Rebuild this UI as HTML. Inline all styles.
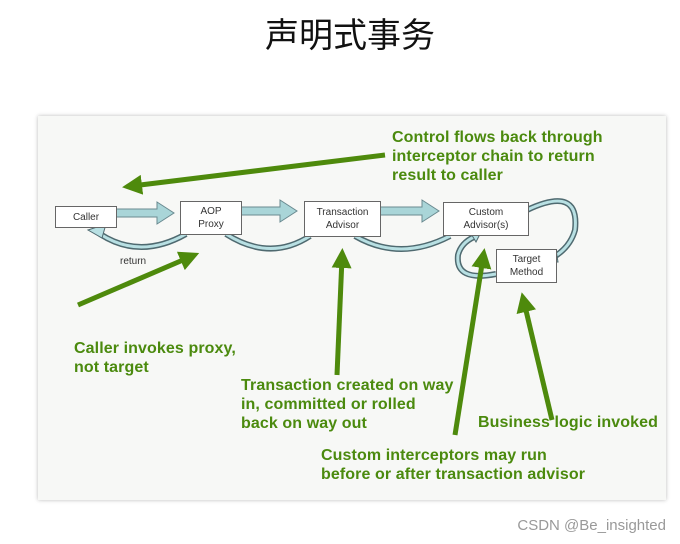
<!DOCTYPE html>
<html><head><style>
body{margin:0;width:680px;height:544px;background:#fff;position:relative;overflow:hidden;font-family:"Liberation Sans",sans-serif}
.t{position:absolute;left:0;width:700px;text-align:center;top:8px;font:34px "Noto Sans CJK SC",sans-serif;color:#111}
.slide{position:absolute;left:38px;top:116px;width:628px;height:384px;background:#f7f8f6;box-shadow:0 0 4px #bbb}
.b{position:absolute;background:#fff;border:1px solid #666;font-size:10px;color:#333;text-align:center;display:flex;align-items:center;justify-content:center;line-height:13px}
.g{position:absolute;color:#4b8a0e;font-weight:bold;font-size:16px;line-height:19px;white-space:nowrap;letter-spacing:0.1px}
.w{position:absolute;right:14px;bottom:10px;font:15px "Liberation Sans","Noto Sans CJK SC",sans-serif;color:#999}
</style></head><body>
<div class="t">声明式事务</div>
<div class="slide"></div>
<svg width="680" height="544" style="position:absolute;left:0;top:0">
<defs><marker id="h" markerWidth="4" markerHeight="4" refX="2" refY="2" orient="auto" markerUnits="strokeWidth"><path d="M0,0L4,2L0,4z" fill="#4e8a0c"/></marker></defs>
<g fill="#a9d5d8" stroke="#6a8a90" stroke-width="1">
<path d="M115,209h42v-7l17,11l-17,11v-7h-42z"/>
<path d="M240,207h40v-7l17,11l-17,11v-7h-40z"/>
<path d="M379,207h43v-7l17,11l-17,11v-7h-43z"/>
</g>
<g fill="none" stroke="#4f6a70" stroke-width="6">
<path d="M186,234 Q140,260 100,234"/>
<path d="M226,234 Q270,262 310,236"/>
<path d="M355,236 Q400,262 450,236"/>
<path d="M527,210 Q580,185 575,230 Q570,248 552,258"/>
<path d="M496,274 Q455,282 458,255 Q461,243 474,237"/>
</g>
<g fill="none" stroke="#b8e0e3" stroke-width="3">
<path d="M186,234 Q140,260 100,234"/>
<path d="M226,234 Q270,262 310,236"/>
<path d="M355,236 Q400,262 450,236"/>
<path d="M527,210 Q580,185 575,230 Q570,248 552,258"/>
<path d="M496,274 Q455,282 458,255 Q461,243 474,237"/>
</g>
<g fill="#b8e0e3" stroke="#4f6a70" stroke-width="1">
<path d="M88,230 L106,224 L102,238 z"/>
<path d="M542,262 L556,250 L558,262 z"/>
<path d="M470,232 L482,230 L476,242 z"/>
</g>
<g stroke="#4e8a0c" stroke-width="5" fill="none" marker-end="url(#h)">
<line x1="385" y1="155" x2="132" y2="186"/>
<line x1="78" y1="305" x2="190" y2="257"/>
<line x1="337" y1="375" x2="342" y2="258"/>
<line x1="455" y1="435" x2="483" y2="258"/>
<line x1="552" y1="420" x2="524" y2="302"/>
</g>
</svg>
<div class="b" style="left:55px;top:206px;width:60px;height:20px">Caller</div>
<div class="b" style="left:180px;top:201px;width:60px;height:32px">AOP<br>Proxy</div>
<div class="b" style="left:304px;top:201px;width:75px;height:34px">Transaction<br>Advisor</div>
<div class="b" style="left:443px;top:202px;width:84px;height:32px">Custom<br>Advisor(s)</div>
<div class="b" style="left:496px;top:249px;width:59px;height:32px">Target<br>Method</div>
<div style="position:absolute;left:120px;top:256px;font-size:10px;color:#333">return</div>
<div class="g" style="left:392px;top:128px">Control flows back through<br>interceptor chain to return<br>result to caller</div>
<div class="g" style="left:74px;top:339px">Caller invokes proxy,<br>not target</div>
<div class="g" style="left:241px;top:376px">Transaction created on way<br>in, committed or rolled<br>back on way out</div>
<div class="g" style="left:478px;top:413px">Business logic invoked</div>
<div class="g" style="left:321px;top:446px">Custom interceptors may run<br>before or after transaction advisor</div>
<div class="w">CSDN @Be_insighted</div>
</body></html>
